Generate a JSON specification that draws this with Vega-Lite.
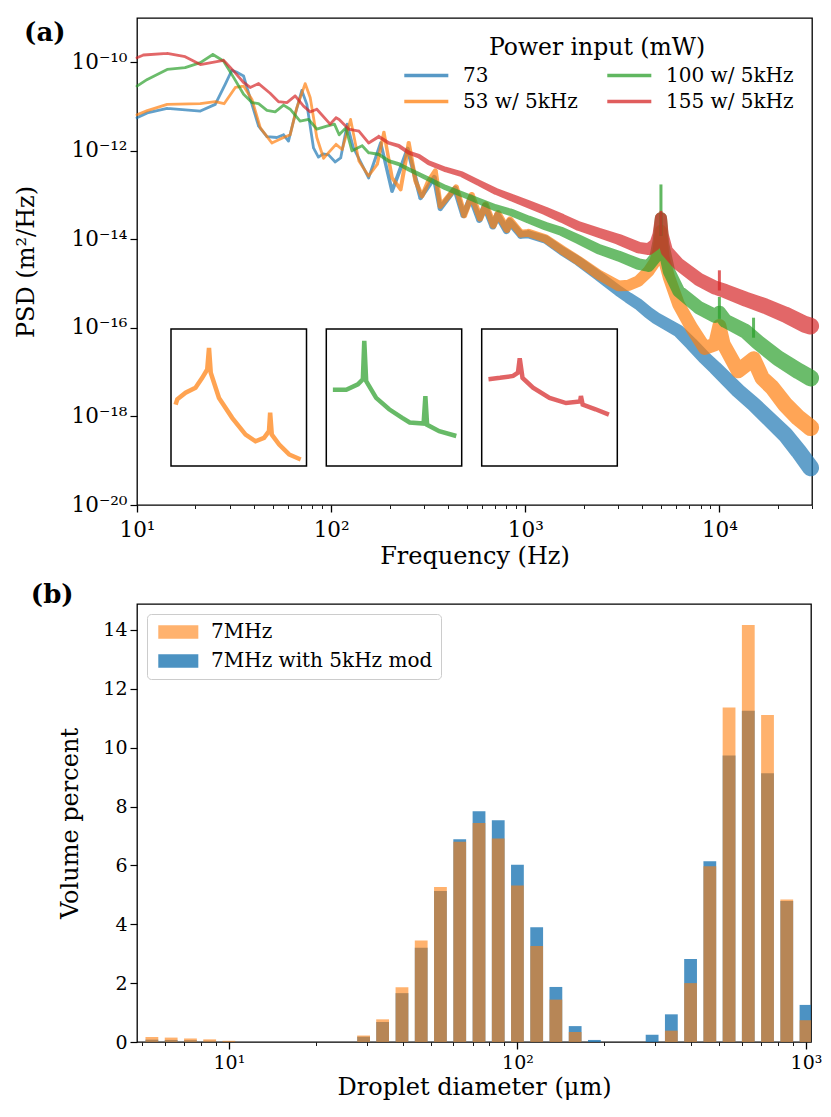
{
"$schema": "https://vega.github.io/schema/vega-lite/v6.json",
"padding": {"left": 13, "top": 17, "right": 5, "bottom": 5},
"bounds": "flush",
"spacing": 99,
"resolve": {"scale": {"color": "independent", "opacity": "independent", "size": "independent"}, "legend": {"color": "independent"}},
"datasets": {
"psd": [
{"s":"73","f":10,"p":5.6e-12},{"s":"73","f":11.3,"p":7.2e-12},{"s":"73","f":14.3,"p":9.1e-12},{"s":"73","f":21.2,"p":7.9e-12},{"s":"73","f":25.3,"p":1.12e-11},{"s":"73","f":28.5,"p":3.2e-11},{"s":"73","f":30.8,"p":6.6e-11},{"s":"73","f":32.5,"p":6.0e-11},{"s":"73","f":35.4,"p":4.9e-11},{"s":"73","f":39.1,"p":1.12e-11},{"s":"73","f":42.3,"p":3.6e-12},{"s":"73","f":46.7,"p":2.1e-12},{"s":"73","f":52.5,"p":2.0e-12},{"s":"73","f":56.9,"p":2.3e-12},{"s":"73","f":60.3,"p":1.66e-12},{"s":"73","f":65.3,"p":6.7e-12},{"s":"73","f":70.6,"p":2.3e-11},{"s":"73","f":75,"p":1.12e-11},{"s":"73","f":81.1,"p":1.17e-12},{"s":"73","f":86,"p":7.2e-13},{"s":"73","f":91,"p":8.5e-13},{"s":"73","f":97,"p":8.1e-13},{"s":"73","f":105,"p":5.6e-13},{"s":"73","f":112,"p":6.9e-13},{"s":"73","f":121,"p":4.0e-12},{"s":"73","f":130,"p":1.2e-12},{"s":"73","f":156,"p":2.45e-13},{"s":"73","f":180,"p":1.5e-12},{"s":"73","f":206,"p":1.23e-13},{"s":"73","f":248,"p":1.1e-12},{"s":"73","f":289,"p":8.7e-14},{"s":"73","f":340,"p":2.5e-13},{"s":"73","f":365,"p":5.0e-14},{"s":"73","f":435,"p":1.4e-13},{"s":"73","f":480,"p":3.5e-14},{"s":"73","f":525,"p":8.9e-14},{"s":"73","f":580,"p":2.8e-14},{"s":"73","f":620,"p":5.6e-14},{"s":"73","f":680,"p":2.0e-14},{"s":"73","f":720,"p":3.5e-14},{"s":"73","f":800,"p":1.6e-14},{"s":"73","f":830,"p":2.5e-14},{"s":"73","f":950,"p":1.26e-14},{"s":"73","f":1040,"p":1.3e-14},{"s":"73","f":1270,"p":1.0e-14},{"s":"73","f":1545,"p":5.5e-15},{"s":"73","f":1884,"p":3.2e-15},{"s":"73","f":2387,"p":1.5e-15},{"s":"73","f":3027,"p":6.8e-16},{"s":"73","f":3400,"p":4.8e-16},{"s":"73","f":3837,"p":3.4e-16},{"s":"73","f":4318,"p":2.2e-16},{"s":"73","f":4677,"p":1.7e-16},{"s":"73","f":6164,"p":8.5e-17},{"s":"73","f":7200,"p":4.3e-17},{"s":"73","f":8400,"p":2.1e-17},{"s":"73","f":9510,"p":1.26e-17},{"s":"73","f":12500,"p":3.8e-18},{"s":"73","f":15000,"p":1.9e-18},{"s":"73","f":21830,"p":3.9e-19},{"s":"73","f":25500,"p":1.66e-19},{"s":"73","f":29500,"p":6.9e-20},
{"s":"53 w/ 5kHz","f":10,"p":6.5e-12},{"s":"53 w/ 5kHz","f":11.3,"p":8.1e-12},{"s":"53 w/ 5kHz","f":14.3,"p":1.12e-11},{"s":"53 w/ 5kHz","f":21.2,"p":1.16e-11},{"s":"53 w/ 5kHz","f":25.3,"p":1.29e-11},{"s":"53 w/ 5kHz","f":28.1,"p":1.16e-11},{"s":"53 w/ 5kHz","f":32.1,"p":2.7e-11},{"s":"53 w/ 5kHz","f":35.4,"p":2.9e-11},{"s":"53 w/ 5kHz","f":39.1,"p":1.45e-11},{"s":"53 w/ 5kHz","f":43.2,"p":3.3e-12},{"s":"53 w/ 5kHz","f":49.5,"p":1.5e-12},{"s":"53 w/ 5kHz","f":56.9,"p":2.0e-12},{"s":"53 w/ 5kHz","f":61.5,"p":2.3e-12},{"s":"53 w/ 5kHz","f":66.5,"p":9.3e-12},{"s":"53 w/ 5kHz","f":73.5,"p":3.3e-11},{"s":"53 w/ 5kHz","f":78,"p":1.6e-11},{"s":"53 w/ 5kHz","f":84.4,"p":2.0e-12},{"s":"53 w/ 5kHz","f":91.4,"p":6.8e-13},{"s":"53 w/ 5kHz","f":97,"p":9.1e-13},{"s":"53 w/ 5kHz","f":106,"p":1.4e-12},{"s":"53 w/ 5kHz","f":114,"p":1.07e-12},{"s":"53 w/ 5kHz","f":126,"p":5.1e-12},{"s":"53 w/ 5kHz","f":139,"p":5.9e-13},{"s":"53 w/ 5kHz","f":156,"p":2.7e-13},{"s":"53 w/ 5kHz","f":173,"p":5.0e-13},{"s":"53 w/ 5kHz","f":187,"p":2.6e-12},{"s":"53 w/ 5kHz","f":206,"p":2.45e-13},{"s":"53 w/ 5kHz","f":228,"p":1.35e-13},{"s":"53 w/ 5kHz","f":251,"p":1.5e-12},{"s":"53 w/ 5kHz","f":272,"p":2.1e-13},{"s":"53 w/ 5kHz","f":294,"p":9.5e-14},{"s":"53 w/ 5kHz","f":318,"p":2.1e-13},{"s":"53 w/ 5kHz","f":344,"p":3.5e-13},{"s":"53 w/ 5kHz","f":365,"p":5.6e-14},{"s":"53 w/ 5kHz","f":440,"p":1.5e-13},{"s":"53 w/ 5kHz","f":485,"p":3.5e-14},{"s":"53 w/ 5kHz","f":530,"p":1.0e-13},{"s":"53 w/ 5kHz","f":585,"p":3.0e-14},{"s":"53 w/ 5kHz","f":625,"p":6.0e-14},{"s":"53 w/ 5kHz","f":685,"p":2.1e-14},{"s":"53 w/ 5kHz","f":725,"p":3.8e-14},{"s":"53 w/ 5kHz","f":805,"p":1.7e-14},{"s":"53 w/ 5kHz","f":835,"p":2.7e-14},{"s":"53 w/ 5kHz","f":950,"p":1.35e-14},{"s":"53 w/ 5kHz","f":1040,"p":1.4e-14},{"s":"53 w/ 5kHz","f":1270,"p":1.05e-14},{"s":"53 w/ 5kHz","f":1545,"p":5.8e-15},{"s":"53 w/ 5kHz","f":1884,"p":3.3e-15},{"s":"53 w/ 5kHz","f":2387,"p":1.6e-15},{"s":"53 w/ 5kHz","f":3027,"p":8.9e-16},{"s":"53 w/ 5kHz","f":3400,"p":9.1e-16},{"s":"53 w/ 5kHz","f":3837,"p":1.15e-15},{"s":"53 w/ 5kHz","f":4318,"p":1.9e-15},{"s":"53 w/ 5kHz","f":4677,"p":3.2e-15},{"s":"53 w/ 5kHz","f":4863,"p":5.5e-15},{"s":"53 w/ 5kHz","f":5000,"p":1.55e-14},{"s":"53 w/ 5kHz","f":5150,"p":3.9e-15},{"s":"53 w/ 5kHz","f":5500,"p":1.38e-15},{"s":"53 w/ 5kHz","f":6164,"p":3.4e-16},{"s":"53 w/ 5kHz","f":7200,"p":1.0e-16},{"s":"53 w/ 5kHz","f":8400,"p":3.5e-17},{"s":"53 w/ 5kHz","f":9510,"p":4.3e-17},{"s":"53 w/ 5kHz","f":10000,"p":1.1e-16},{"s":"53 w/ 5kHz","f":10500,"p":4.3e-17},{"s":"53 w/ 5kHz","f":12500,"p":1.07e-17},{"s":"53 w/ 5kHz","f":15000,"p":2.0e-17},{"s":"53 w/ 5kHz","f":16600,"p":7.4e-18},{"s":"53 w/ 5kHz","f":18700,"p":4.5e-18},{"s":"53 w/ 5kHz","f":21830,"p":1.86e-18},{"s":"53 w/ 5kHz","f":25500,"p":9.3e-19},{"s":"53 w/ 5kHz","f":29500,"p":5.6e-19},
{"s":"100 w/ 5kHz","f":10,"p":2.9e-11},{"s":"100 w/ 5kHz","f":11.3,"p":4.1e-11},{"s":"100 w/ 5kHz","f":14.3,"p":6.9e-11},{"s":"100 w/ 5kHz","f":17.7,"p":7.6e-11},{"s":"100 w/ 5kHz","f":21.2,"p":9.8e-11},{"s":"100 w/ 5kHz","f":24.6,"p":1.5e-10},{"s":"100 w/ 5kHz","f":27.9,"p":1.07e-10},{"s":"100 w/ 5kHz","f":31.5,"p":4.5e-11},{"s":"100 w/ 5kHz","f":35.4,"p":1.9e-11},{"s":"100 w/ 5kHz","f":39.1,"p":1.23e-11},{"s":"100 w/ 5kHz","f":42.3,"p":1.16e-11},{"s":"100 w/ 5kHz","f":46.7,"p":8.2e-12},{"s":"100 w/ 5kHz","f":51.5,"p":7.6e-12},{"s":"100 w/ 5kHz","f":56.9,"p":1.08e-11},{"s":"100 w/ 5kHz","f":61.5,"p":8.7e-12},{"s":"100 w/ 5kHz","f":69.2,"p":4.7e-12},{"s":"100 w/ 5kHz","f":76.6,"p":5.1e-12},{"s":"100 w/ 5kHz","f":84.4,"p":3.1e-12},{"s":"100 w/ 5kHz","f":95,"p":3.6e-12},{"s":"100 w/ 5kHz","f":104,"p":4.0e-12},{"s":"100 w/ 5kHz","f":110,"p":2.3e-12},{"s":"100 w/ 5kHz","f":119,"p":3.3e-12},{"s":"100 w/ 5kHz","f":128,"p":1.0e-12},{"s":"100 w/ 5kHz","f":144.5,"p":1.3e-12},{"s":"100 w/ 5kHz","f":156,"p":9.1e-13},{"s":"100 w/ 5kHz","f":176,"p":8.3e-13},{"s":"100 w/ 5kHz","f":198,"p":5.9e-13},{"s":"100 w/ 5kHz","f":223,"p":5.0e-13},{"s":"100 w/ 5kHz","f":251,"p":3.8e-13},{"s":"100 w/ 5kHz","f":283,"p":2.95e-13},{"s":"100 w/ 5kHz","f":318,"p":2.3e-13},{"s":"100 w/ 5kHz","f":388,"p":1.48e-13},{"s":"100 w/ 5kHz","f":472,"p":1.05e-13},{"s":"100 w/ 5kHz","f":575,"p":7.4e-14},{"s":"100 w/ 5kHz","f":701,"p":5.2e-14},{"s":"100 w/ 5kHz","f":855,"p":4.0e-14},{"s":"100 w/ 5kHz","f":1040,"p":2.8e-14},{"s":"100 w/ 5kHz","f":1267,"p":2.0e-14},{"s":"100 w/ 5kHz","f":1545,"p":1.5e-14},{"s":"100 w/ 5kHz","f":1884,"p":1.0e-14},{"s":"100 w/ 5kHz","f":2387,"p":6.0e-15},{"s":"100 w/ 5kHz","f":3027,"p":4.2e-15},{"s":"100 w/ 5kHz","f":3837,"p":2.75e-15},{"s":"100 w/ 5kHz","f":4318,"p":2.5e-15},{"s":"100 w/ 5kHz","f":4677,"p":3.9e-15},{"s":"100 w/ 5kHz","f":4863,"p":9.1e-15},{"s":"100 w/ 5kHz","f":5000,"p":3.0e-14},{"s":"100 w/ 5kHz","f":5130,"p":7.8e-15},{"s":"100 w/ 5kHz","f":5500,"p":1.9e-15},{"s":"100 w/ 5kHz","f":6164,"p":6.8e-16},{"s":"100 w/ 5kHz","f":7806,"p":2.9e-16},{"s":"100 w/ 5kHz","f":9510,"p":1.86e-16},{"s":"100 w/ 5kHz","f":10000,"p":2.2e-16},{"s":"100 w/ 5kHz","f":10710,"p":1.45e-16},{"s":"100 w/ 5kHz","f":13580,"p":8.5e-17},{"s":"100 w/ 5kHz","f":15830,"p":4.7e-17},{"s":"100 w/ 5kHz","f":20000,"p":2.1e-17},{"s":"100 w/ 5kHz","f":25500,"p":1.07e-17},{"s":"100 w/ 5kHz","f":29500,"p":7.4e-18},
{"s":"155 w/ 5kHz","f":10,"p":1.27e-10},{"s":"155 w/ 5kHz","f":10.8,"p":1.46e-10},{"s":"155 w/ 5kHz","f":14.3,"p":1.58e-10},{"s":"155 w/ 5kHz","f":17.7,"p":1.34e-10},{"s":"155 w/ 5kHz","f":21.2,"p":8.9e-11},{"s":"155 w/ 5kHz","f":27.9,"p":1.11e-10},{"s":"155 w/ 5kHz","f":31.5,"p":6.3e-11},{"s":"155 w/ 5kHz","f":35.4,"p":3.5e-11},{"s":"155 w/ 5kHz","f":38.3,"p":2.7e-11},{"s":"155 w/ 5kHz","f":42.3,"p":3.3e-11},{"s":"155 w/ 5kHz","f":48.5,"p":2.0e-11},{"s":"155 w/ 5kHz","f":53.6,"p":1.29e-11},{"s":"155 w/ 5kHz","f":59.2,"p":1.23e-11},{"s":"155 w/ 5kHz","f":65.3,"p":1.74e-11},{"s":"155 w/ 5kHz","f":72.1,"p":1.02e-11},{"s":"155 w/ 5kHz","f":78,"p":7.6e-12},{"s":"155 w/ 5kHz","f":84.4,"p":8.7e-12},{"s":"155 w/ 5kHz","f":98.8,"p":4.0e-12},{"s":"155 w/ 5kHz","f":106,"p":5.6e-12},{"s":"155 w/ 5kHz","f":110,"p":5.1e-12},{"s":"155 w/ 5kHz","f":123,"p":3.1e-12},{"s":"155 w/ 5kHz","f":139,"p":2.8e-12},{"s":"155 w/ 5kHz","f":156,"p":1.51e-12},{"s":"155 w/ 5kHz","f":176,"p":2.1e-12},{"s":"155 w/ 5kHz","f":198,"p":1.51e-12},{"s":"155 w/ 5kHz","f":223,"p":1.29e-12},{"s":"155 w/ 5kHz","f":251,"p":9.1e-13},{"s":"155 w/ 5kHz","f":283,"p":7.6e-13},{"s":"155 w/ 5kHz","f":318,"p":5.4e-13},{"s":"155 w/ 5kHz","f":388,"p":3.8e-13},{"s":"155 w/ 5kHz","f":472,"p":2.95e-13},{"s":"155 w/ 5kHz","f":575,"p":1.9e-13},{"s":"155 w/ 5kHz","f":701,"p":1.23e-13},{"s":"155 w/ 5kHz","f":855,"p":8.7e-14},{"s":"155 w/ 5kHz","f":1040,"p":6.2e-14},{"s":"155 w/ 5kHz","f":1267,"p":4.4e-14},{"s":"155 w/ 5kHz","f":1545,"p":3.0e-14},{"s":"155 w/ 5kHz","f":1884,"p":2.0e-14},{"s":"155 w/ 5kHz","f":2387,"p":1.41e-14},{"s":"155 w/ 5kHz","f":3027,"p":1.0e-14},{"s":"155 w/ 5kHz","f":3837,"p":6.5e-15},{"s":"155 w/ 5kHz","f":4318,"p":6.0e-15},{"s":"155 w/ 5kHz","f":4677,"p":7.8e-15},{"s":"155 w/ 5kHz","f":4863,"p":1.29e-14},{"s":"155 w/ 5kHz","f":5000,"p":3.0e-14},{"s":"155 w/ 5kHz","f":5094,"p":1.29e-14},{"s":"155 w/ 5kHz","f":5361,"p":5.5e-15},{"s":"155 w/ 5kHz","f":6164,"p":2.75e-15},{"s":"155 w/ 5kHz","f":7806,"p":1.26e-15},{"s":"155 w/ 5kHz","f":9510,"p":8.1e-16},{"s":"155 w/ 5kHz","f":10710,"p":6.8e-16},{"s":"155 w/ 5kHz","f":13580,"p":4.5e-16},{"s":"155 w/ 5kHz","f":17220,"p":3.1e-16},{"s":"155 w/ 5kHz","f":21830,"p":2.0e-16},{"s":"155 w/ 5kHz","f":27620,"p":1.2e-16},{"s":"155 w/ 5kHz","f":29500,"p":1.1e-16}
],
"spikes": [
{"s":"100 w/ 5kHz","f":5000,"p":1.74e-13,"p0":1.2e-14},
{"s":"155 w/ 5kHz","f":5000,"p":4.4e-14,"p0":1.2e-14},
{"s":"155 w/ 5kHz","f":10000,"p":2.0e-15,"p0":7e-16},
{"s":"100 w/ 5kHz","f":10000,"p":5e-16,"p0":1.6e-16},
{"s":"100 w/ 5kHz","f":15000,"p":1.7e-16,"p0":6e-17}
],
"insetO": [
{"f":3424,"p":9.1e-16},{"f":3490,"p":1.26e-15},{"f":3834,"p":1.9e-15},{"f":4290,"p":2.6e-15},{"f":4630,"p":4.8e-15},{"f":4900,"p":8.1e-15},{"f":5000,"p":3.1e-14},{"f":5100,"p":6.6e-15},{"f":5600,"p":1.38e-15},{"f":6500,"p":4.0e-16},{"f":7570,"p":1.41e-16},{"f":8470,"p":9.3e-17},{"f":9330,"p":1.15e-16},{"f":9870,"p":1.74e-16},{"f":10000,"p":5.5e-16},{"f":10190,"p":1.41e-16},{"f":11080,"p":7.6e-17},{"f":12400,"p":4.1e-17},{"f":14140,"p":3.0e-17}
],
"insetG": [
{"f":3502,"p":2.3e-15},{"f":4076,"p":2.3e-15},{"f":4650,"p":3.2e-15},{"f":4920,"p":4.4e-15},{"f":5000,"p":4.8e-14},{"f":5110,"p":3.9e-15},{"f":5720,"p":1.38e-15},{"f":6630,"p":6.8e-16},{"f":7690,"p":4.0e-16},{"f":8370,"p":3.0e-16},{"f":9800,"p":2.8e-16},{"f":10000,"p":1.55e-15},{"f":10200,"p":2.6e-16},{"f":11700,"p":1.74e-16},{"f":14200,"p":1.29e-16}
],
"insetR": [
{"f":3510,"p":4.4e-15},{"f":4000,"p":4.8e-15},{"f":4640,"p":5.4e-15},{"f":4900,"p":6.6e-15},{"f":5000,"p":1.62e-14},{"f":5160,"p":4.8e-15},{"f":5810,"p":2.6e-15},{"f":7010,"p":1.38e-15},{"f":8450,"p":1.0e-15},{"f":9900,"p":1.1e-15},{"f":10000,"p":1.55e-15},{"f":10200,"p":9.1e-16},{"f":11800,"p":6.8e-16},{"f":13730,"p":4.9e-16}
],
"bars": [
{"s":"7MHz with 5kHz mod","d":5.41,"v":0.08},{"s":"7MHz with 5kHz mod","d":6.31,"v":0.07},{"s":"7MHz with 5kHz mod","d":7.36,"v":0.06},{"s":"7MHz with 5kHz mod","d":8.58,"v":0.04},{"s":"7MHz with 5kHz mod","d":10,"v":0.02},
{"s":"7MHz with 5kHz mod","d":29.3,"v":0.18},{"s":"7MHz with 5kHz mod","d":34.1,"v":0.68},{"s":"7MHz with 5kHz mod","d":39.8,"v":1.66},{"s":"7MHz with 5kHz mod","d":46.4,"v":3.2},{"s":"7MHz with 5kHz mod","d":54.1,"v":5.13},{"s":"7MHz with 5kHz mod","d":63.1,"v":6.89},{"s":"7MHz with 5kHz mod","d":73.6,"v":7.84},{"s":"7MHz with 5kHz mod","d":85.8,"v":7.53},{"s":"7MHz with 5kHz mod","d":100,"v":6.02},{"s":"7MHz with 5kHz mod","d":116.6,"v":3.9},{"s":"7MHz with 5kHz mod","d":135.9,"v":1.87},{"s":"7MHz with 5kHz mod","d":158.5,"v":0.54},{"s":"7MHz with 5kHz mod","d":184.8,"v":0.07},
{"s":"7MHz with 5kHz mod","d":292.9,"v":0.25},{"s":"7MHz with 5kHz mod","d":341.5,"v":0.94},{"s":"7MHz with 5kHz mod","d":398.1,"v":2.82},{"s":"7MHz with 5kHz mod","d":464.2,"v":6.14},{"s":"7MHz with 5kHz mod","d":541.2,"v":9.73},{"s":"7MHz with 5kHz mod","d":631,"v":11.25},{"s":"7MHz with 5kHz mod","d":735.6,"v":9.13},{"s":"7MHz with 5kHz mod","d":857.7,"v":4.79},{"s":"7MHz with 5kHz mod","d":1000,"v":1.26},
{"s":"7MHz","d":5.41,"v":0.17},{"s":"7MHz","d":6.31,"v":0.15},{"s":"7MHz","d":7.36,"v":0.12},{"s":"7MHz","d":8.58,"v":0.09},{"s":"7MHz","d":10,"v":0.04},
{"s":"7MHz","d":29.3,"v":0.22},{"s":"7MHz","d":34.1,"v":0.77},{"s":"7MHz","d":39.8,"v":1.86},{"s":"7MHz","d":46.4,"v":3.45},{"s":"7MHz","d":54.1,"v":5.27},{"s":"7MHz","d":63.1,"v":6.8},{"s":"7MHz","d":73.6,"v":7.44},{"s":"7MHz","d":85.8,"v":6.91},{"s":"7MHz","d":100,"v":5.32},{"s":"7MHz","d":116.6,"v":3.26},{"s":"7MHz","d":135.9,"v":1.44},{"s":"7MHz","d":158.5,"v":0.34},
{"s":"7MHz","d":341.5,"v":0.385},{"s":"7MHz","d":398.1,"v":2.0},{"s":"7MHz","d":464.2,"v":5.97},{"s":"7MHz","d":541.2,"v":11.36},{"s":"7MHz","d":631,"v":14.17},{"s":"7MHz","d":735.6,"v":11.11},{"s":"7MHz","d":857.7,"v":4.84},{"s":"7MHz","d":1000,"v":0.74}
]
},
"vconcat": [
{
"width": 675, "height": 487,
"layer": [
{"layer": [
{"data": {"name": "psd"}, "mark": {"type": "trail", "opacity": 0.7},
"encoding": {
"x": {"field": "f", "type": "quantitative", "scale": {"type": "log", "domain": [10, 30000], "nice": false},
"axis": {"orient": "bottom", "title": "Frequency (Hz)", "titlePadding": 4, "labelPadding": 7, "labelFontSize": 21.5, "titleFontSize": 24,
"values": [10,20,30,40,50,60,70,80,90,100,200,300,400,500,600,700,800,900,1000,2000,3000,4000,5000,6000,7000,8000,9000,10000,20000,30000],
"labelExpr": "indexof([10,100,1000,10000], datum.value) >= 0 ? '10' + replace(replace(replace(replace('' + round(log(datum.value)/LN10), '1', '¹'), '2', '²'), '3', '³'), '4', '⁴') : ''",
"tickSize": {"condition": {"test": "indexof([10,100,1000,10000], datum.value) >= 0", "value": 7}, "value": 3.5},
"tickWidth": {"condition": {"test": "indexof([10,100,1000,10000], datum.value) >= 0", "value": 1.3}, "value": 0.9}}},
"y": {"field": "p", "type": "quantitative", "scale": {"type": "log", "domain": [1e-20, 1e-9], "nice": false},
"axis": {"orient": "left", "title": "PSD (m²/Hz)", "titlePadding": 33, "labelPadding": 3, "tickSize": 7, "labelFontSize": 21.5, "titleFontSize": 24,
"values": [1e-20, 1e-18, 1e-16, 1e-14, 1e-12, 1e-10],
"labelExpr": "'10' + replace(replace(replace(replace(replace(replace(replace('' + round(log(datum.value)/LN10), '-', '⁻'), '1', '¹'), '2', '²'), '0', '⁰'), '4', '⁴'), '6', '⁶'), '8', '⁸')"}},
"color": {"field": "s", "type": "nominal",
"scale": {"domain": ["73", "53 w/ 5kHz", "100 w/ 5kHz", "155 w/ 5kHz"], "range": ["#1f77b4", "#ff7f0e", "#2ca02c", "#d62728"]},
"legend": {"title": "Power input (mW)", "orient": "top-right", "offset": 10, "padding": 8, "columns": 2, "columnPadding": 22, "rowPadding": 6,
"symbolType": "M-3.3,0H3.3", "symbolSize": 178, "symbolOffset": 15.3, "labelOffset": 26.7, "symbolStrokeWidth": 3.5,
"labelFontSize": 20, "titleFontSize": 23.5, "titleAnchor": "middle", "titlePadding": 6, "symbolOpacity": 0.7, "labelLimit": 0, "titleLimit": 0}},
"size": {"field": "f", "type": "quantitative", "scale": {"type": "log", "domain": [150, 30000], "range": [2.8, 17], "clamp": true}, "legend": null}
}},
{"data": {"name": "spikes"}, "mark": {"type": "rule", "strokeWidth": 3, "opacity": 0.75},
"encoding": {
"x": {"field": "f", "type": "quantitative"},
"y": {"field": "p", "type": "quantitative"},
"y2": {"field": "p0"},
"color": {"field": "s", "type": "nominal"}
}},
{"data": {"values": [{}]}, "mark": {"type": "text", "text": "(a)", "align": "left", "baseline": "alphabetic", "font": "DejaVu Serif", "fontWeight": "bold", "fontSize": 26, "color": "black"},
"encoding": {"x": {"datum": 2.62, "type": "quantitative"}, "y": {"datum": 3.02e-10, "type": "quantitative"}}}
]},
{"layer": [
{"data": {"name": "insetO"}, "mark": {"type": "line", "color": "#ff7f0e", "opacity": 0.72, "strokeWidth": 4.5},
"encoding": {
"x": {"field": "f", "type": "quantitative", "scale": {"type": "log", "domain": [3250, 15100], "range": [34, 169.5], "nice": false},
"axis": {"orient": "bottom", "offset": -39, "values": [4000,5000,6000,7000,8000,9000,10000], "labels": false, "title": null, "domain": false,
"tickSize": {"condition": {"test": "datum.value == 10000", "value": 7}, "value": 3.5}, "tickWidth": 1.1}},
"y": {"field": "p", "type": "quantitative", "scale": {"type": "log", "domain": [2e-17, 1e-13], "range": [448, 311], "nice": false},
"axis": {"orient": "left", "offset": -34, "values": [1e-15], "labels": false, "title": null, "domain": false, "tickSize": 7}}
}},
{"data": {"values": [{}]}, "mark": {"type": "rect", "filled": false, "color": "black", "strokeWidth": 1.5},
"encoding": {"x": {"datum": 3250, "type": "quantitative", "axis": null}, "x2": {"datum": 15100}, "y": {"datum": 2e-17, "type": "quantitative", "axis": null}, "y2": {"datum": 1e-13}}}
]},
{"layer": [
{"data": {"name": "insetG"}, "mark": {"type": "line", "color": "#2ca02c", "opacity": 0.72, "strokeWidth": 4.5},
"encoding": {
"x": {"field": "f", "type": "quantitative", "scale": {"type": "log", "domain": [3250, 15100], "range": [189.3, 324.7], "nice": false},
"axis": {"orient": "bottom", "offset": -39, "values": [4000,5000,6000,7000,8000,9000,10000], "labels": false, "title": null, "domain": false,
"tickSize": {"condition": {"test": "datum.value == 10000", "value": 7}, "value": 3.5}, "tickWidth": 1.1}},
"y": {"field": "p", "type": "quantitative", "scale": {"type": "log", "domain": [2e-17, 1e-13], "range": [448, 311], "nice": false},
"axis": {"orient": "left", "offset": -189.3, "values": [1e-15], "labels": false, "title": null, "domain": false, "tickSize": 7}}
}},
{"data": {"values": [{}]}, "mark": {"type": "rect", "filled": false, "color": "black", "strokeWidth": 1.5},
"encoding": {"x": {"datum": 3250, "type": "quantitative", "axis": null}, "x2": {"datum": 15100}, "y": {"datum": 2e-17, "type": "quantitative", "axis": null}, "y2": {"datum": 1e-13}}}
]},
{"layer": [
{"data": {"name": "insetR"}, "mark": {"type": "line", "color": "#d62728", "opacity": 0.72, "strokeWidth": 4.5},
"encoding": {
"x": {"field": "f", "type": "quantitative", "scale": {"type": "log", "domain": [3250, 15100], "range": [344.7, 480.3], "nice": false},
"axis": {"orient": "bottom", "offset": -39, "values": [4000,5000,6000,7000,8000,9000,10000], "labels": false, "title": null, "domain": false,
"tickSize": {"condition": {"test": "datum.value == 10000", "value": 7}, "value": 3.5}, "tickWidth": 1.1}},
"y": {"field": "p", "type": "quantitative", "scale": {"type": "log", "domain": [2e-17, 1e-13], "range": [448, 311], "nice": false},
"axis": {"orient": "left", "offset": -344.7, "values": [1e-15], "labels": false, "title": null, "domain": false, "tickSize": 7}}
}},
{"data": {"values": [{}]}, "mark": {"type": "rect", "filled": false, "color": "black", "strokeWidth": 1.5},
"encoding": {"x": {"datum": 3250, "type": "quantitative", "axis": null}, "x2": {"datum": 15100}, "y": {"datum": 2e-17, "type": "quantitative", "axis": null}, "y2": {"datum": 1e-13}}}
]}
],
"resolve": {"scale": {"x": "independent", "y": "independent"}}
},
{
"width": 674, "height": 438,
"layer": [
{"data": {"name": "bars"},
"mark": {"type": "bar", "size": 12.8, "clip": true},
"encoding": {
"x": {"field": "d", "type": "quantitative", "scale": {"type": "log", "domain": [5, 1000], "nice": false},
"axis": {"orient": "bottom", "title": "Droplet diameter (μm)", "titlePadding": 3, "labelPadding": 4, "labelFontSize": 19, "titleFontSize": 24,
"values": [5,6,7,8,9,10,20,30,40,50,60,70,80,90,100,200,300,400,500,600,700,800,900,1000],
"labelExpr": "indexof([10,100,1000], datum.value) >= 0 ? '10' + replace(replace(replace('' + round(log(datum.value)/LN10), '1', '¹'), '2', '²'), '3', '³') : ''",
"tickSize": {"condition": {"test": "indexof([10,100,1000], datum.value) >= 0", "value": 7}, "value": 3.5},
"tickWidth": {"condition": {"test": "indexof([10,100,1000], datum.value) >= 0", "value": 1.3}, "value": 0.9}}},
"y": {"field": "v", "type": "quantitative", "stack": null, "scale": {"domain": [0, 14.88], "nice": false},
"axis": {"orient": "left", "title": "Volume percent", "titlePadding": 20, "labelPadding": 3, "tickSize": 7, "labelFontSize": 19, "titleFontSize": 24, "values": [0,2,4,6,8,10,12,14]}},
"color": {"field": "s", "type": "nominal",
"scale": {"domain": ["7MHz", "7MHz with 5kHz mod"], "range": ["#ff7f0e", "#1f77b4"]},
"legend": {"title": null, "orient": "top-left", "offset": 10, "padding": 8, "rowPadding": 9,
"symbolType": "M-3,-1H3V1H-3Z", "symbolSize": 178, "symbolOffset": 13.3, "labelOffset": 22.7,
"labelFontSize": 20, "labelLimit": 0, "strokeColor": "#cccccc", "cornerRadius": 4, "fillColor": "white"}},
"opacity": {"field": "s", "type": "nominal", "scale": {"domain": ["7MHz", "7MHz with 5kHz mod"], "range": [0.6, 0.8]}}
}},
{"data": {"values": [{}]}, "mark": {"type": "text", "text": "(b)", "align": "left", "baseline": "alphabetic", "font": "DejaVu Serif", "fontWeight": "bold", "fontSize": 26, "color": "black"},
"encoding": {"x": {"datum": 2.06, "type": "quantitative"}, "y": {"datum": 14.914, "type": "quantitative"}}}
]
}
],
"config": {
"font": "DejaVu Serif",
"view": {"stroke": "black", "strokeWidth": 1.3},
"axis": {"labelFont": "DejaVu Serif", "titleFont": "DejaVu Serif", "labelColor": "black", "titleColor": "black", "titleFontWeight": "normal", "tickColor": "black", "tickWidth": 1.2, "grid": false, "domain": false, "labelOverlap": false, "labelFlush": false},
"legend": {"labelFont": "DejaVu Serif", "titleFont": "DejaVu Serif", "labelColor": "black", "titleColor": "black", "titleFontWeight": "normal"}
}
}
